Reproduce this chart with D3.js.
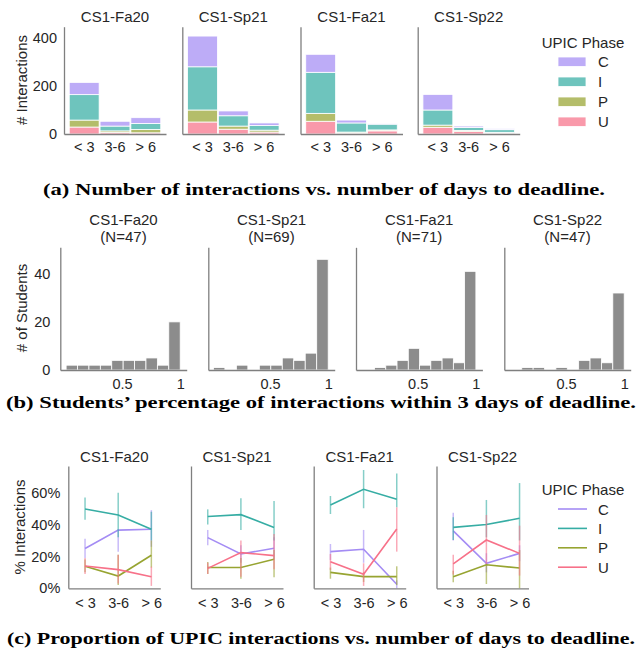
<!DOCTYPE html>
<html>
<head>
<meta charset="utf-8">
<script src="https://cdn.jsdelivr.net/npm/d3@7"></script>
<style>
body { margin: 0; background: #fff; }
text { font-family: "Liberation Sans", Arial, sans-serif; fill: #262626; }
.caption { font-family: "Liberation Serif", "Times New Roman", serif; font-weight: bold; fill: #000; font-size: 17.5px; }
.axis .domain { stroke: #7f7f7f; stroke-width: 1.3; }
.axis text { font-size: 14.5px; fill: #262626; }
</style>
</head>
<body>
<script>
const semesters = ['CS1-Fa20', 'CS1-Sp21', 'CS1-Fa21', 'CS1-Sp22']
const phases = ['C', 'I', 'P', 'U']
const dayBins = ['< 3', '3-6', '> 6']

// (a) number of interactions, [semester][day bin]
const countC = [[51, 20, 24], [128, 20, 11], [75, 12, 1], [65, 6, 4]]
const countI = [[106, 20, 25], [180, 43, 19], [171, 38, 24], [63, 12, 11]]
const countP = [[29, 6, 14], [50, 13, 8], [33, 4, 4], [9, 5, 3]]
const countU = [[29, 7, 5], [50, 20, 8], [53, 4, 13], [28, 10, 4]]

// (b) students per share-of-interactions bin (bins run from histLow up to 1)
const studentN = [47, 69, 71, 47]
const histLow = [0.02, 0.014, 0.129, 0.12]
const histCounts = [
  [2, 2, 2, 2, 4, 4, 4, 5, 2, 20],
  [1, 0, 2, 0, 2, 2, 5, 4, 7, 46],
  [1, 2, 4, 9, 2, 4, 5, 3, 41],
  [1, 1, 0, 1, 0, 4, 5, 3, 32]
]

// (c) % of interactions per phase, [semester][day bin], with error bars
const pctC = [[25, 36.5, 37], [31.8, 21.5, 25.1], [23, 24.5, 2.5], [36, 15.7, 21.9]]
const pctI = [[49.7, 46, 37], [45, 46.2, 38.2], [52.2, 62.1, 55.8], [38.2, 40, 43.9]]
const pctP = [[13.8, 7.7, 20.7], [13, 13, 18.2], [10, 7.3, 7.3], [7.3, 14.8, 12.7]]
const pctU = [[14, 11.7, 7.3], [12.5, 22.4, 20.5], [16.7, 8.8, 37.2], [15.3, 30.3, 21.9]]
const errC = [[[19, 31], [23, 37], [26, 49]], [[27, 36.6], [16, 27], [18, 32]], [[17.8, 27.8], [16, 36.6], [0, 5]], [[30, 47.4], [10, 22], [17, 27]]]
const errI = [[[43, 57], [32, 60], [30, 48]], [[40, 49.5], [36.6, 56.4], [30, 54.8]], [[46.6, 57.9], [50.2, 74.2], [50.8, 72]], [[30.3, 44.5], [32, 55.4], [30, 66]]]
const errP = [[[10, 18], [2, 21], [13, 30]], [[9, 16.5], [6, 19], [7, 24]], [[6, 13], [4, 10], [2, 13.8]], [[3.8, 11], [2.7, 15.3], [0, 24]]]
const errU = [[[9, 19], [3, 21], [1.5, 13.6]], [[9, 16], [7.3, 30], [12, 34]], [[11.5, 21.5], [1.5, 15.7], [23, 50.8]], [[8.6, 21.1], [15.3, 46], [8, 39.3]]]

const colors = {C: '#a48cf4', I: '#36ada4', P: '#97a431', U: '#f77189'}
const countBy = {C: countC, I: countI, P: countP, U: countU}
const pctBy = {C: pctC, I: pctI, P: pctP, U: pctU}
const errBy = {C: errC, I: errI, P: errP, U: errU}

let svg = d3.select('body').append('svg')
  .attr('width', 639)
  .attr('height', 653)

function yLabel(text, x, y) {
  svg.append('text')
    .attr('transform', `translate(${x},${y}) rotate(-90)`)
    .attr('text-anchor', 'middle')
    .style('font-size', '15px')
    .text(text)
}

function title(lines, cx, y) {
  lines.forEach((l, i) => {
    svg.append('text')
      .attr('x', cx).attr('y', y + i * 17.5)
      .attr('text-anchor', 'middle')
      .style('font-size', '15px')
      .text(l)
  })
}

// ---------- (a) stacked bars ----------
const aLeft = [64, 182.3, 300.5, 417.7]
const aW = 102
let yA = d3.scaleLinear().domain([0, 447]).range([134, 26.7])
const stackOrder = ['U', 'P', 'I', 'C']

semesters.forEach((sem, s) => {
  let g = svg.append('g')
  let x = d3.scaleBand().domain(dayBins).range([aLeft[s], aLeft[s] + aW])
    .paddingInner(0.03).paddingOuter(0.17)

  let rows = dayBins.map((d, j) => {
    let r = {bin: d}
    phases.forEach(p => r[p] = countBy[p][s][j])
    return r
  })
  let stacked = d3.stack().keys(stackOrder)(rows)

  g.selectAll('g.layer')
    .data(stacked)
    .enter()
    .append('g')
    .attr('fill', d => colors[d.key])
    .attr('fill-opacity', 0.72)
    .selectAll('rect')
    .data(d => d)
    .enter()
    .append('rect')
    .attr('x', d => x(d.data.bin))
    .attr('width', x.bandwidth())
    .attr('y', d => yA(d[1]))
    .attr('height', d => yA(d[0]) - yA(d[1]))
    .attr('stroke', '#fff')
    .attr('stroke-width', 0.8)

  g.append('g').attr('class', 'axis')
    .attr('transform', 'translate(0,134)')
    .call(d3.axisBottom(x).tickSize(0).tickPadding(8).tickSizeOuter(0))

  let ya = g.append('g').attr('class', 'axis')
    .attr('transform', `translate(${aLeft[s]},0)`)
    .call(d3.axisLeft(yA).tickValues([0, 200, 400]).tickSize(0).tickPadding(7).tickSizeOuter(0))
  if (s > 0) ya.selectAll('text').remove()

  title([sem], aLeft[s] + aW / 2, 21.5)
})
yLabel('# Interactions', 27, 80)

// legend (a)
svg.append('text').attr('x', 583).attr('y', 47.5).attr('text-anchor', 'middle')
  .style('font-size', '15px').text('UPIC Phase')
phases.forEach((p, i) => {
  svg.append('rect')
    .attr('x', 558).attr('y', 57 + i * 20).attr('width', 28).attr('height', 9.5)
    .attr('fill', colors[p]).attr('fill-opacity', 0.72)
    .attr('stroke', '#fff').attr('stroke-width', 0.8)
  svg.append('text').attr('x', 598).attr('y', 67 + i * 20)
    .style('font-size', '15px').text(p)
})

svg.append('text').attr('class', 'caption')
  .attr('x', 324).attr('y', 194.5).attr('text-anchor', 'middle')
  .attr('textLength', 562).attr('lengthAdjust', 'spacingAndGlyphs')
  .text('(a) Number of interactions vs. number of days to deadline.')

// ---------- (b) histograms ----------
const bLeft = [60.3, 208.3, 356, 504.3]
const bW = 126.4
let yB = d3.scaleLinear().domain([0, 51]).range([370, 247.3])

semesters.forEach((sem, s) => {
  let g = svg.append('g')
  let x = d3.scaleLinear().domain([-0.03, 1.056]).range([bLeft[s], bLeft[s] + bW])
  let n = histCounts[s].length
  let step = (1 - histLow[s]) / n
  let bins = histCounts[s].map((c, i) => ({x0: histLow[s] + i * step, x1: histLow[s] + (i + 1) * step, c: c}))

  g.selectAll('rect')
    .data(bins.filter(b => b.c > 0))
    .enter()
    .append('rect')
    .attr('x', d => x(d.x0))
    .attr('width', d => x(d.x1) - x(d.x0))
    .attr('y', d => yB(d.c))
    .attr('height', d => yB(0) - yB(d.c))
    .attr('fill', '#8c8c8c')
    .attr('stroke', '#fff')
    .attr('stroke-width', 0.8)

  g.append('g').attr('class', 'axis')
    .attr('transform', 'translate(0,370)')
    .call(d3.axisBottom(x).tickValues([0.5, 1]).tickFormat(d3.format('')).tickSize(0).tickPadding(9).tickSizeOuter(0))

  let ya = g.append('g').attr('class', 'axis')
    .attr('transform', `translate(${bLeft[s]},0)`)
    .call(d3.axisLeft(yB).tickValues([0, 20, 40]).tickSize(0).tickPadding(10).tickSizeOuter(0))
  if (s > 0) ya.selectAll('text').remove()

  title([sem, `(N=${studentN[s]})`], bLeft[s] + bW / 2, 224.5)
})
yLabel('# of Students', 27, 308)

svg.append('text').attr('class', 'caption')
  .attr('x', 321).attr('y', 407.5).attr('text-anchor', 'middle')
  .attr('textLength', 630).attr('lengthAdjust', 'spacingAndGlyphs')
  .text('(b) Students\u2019 percentage of interactions within 3 days of deadline.')

// ---------- (c) proportions with error bars ----------
const cLeft = [68.3, 191, 313.7, 436.5]
const cW = 92
let yC = d3.scaleLinear().domain([0, 76.7]).range([588.3, 466])

semesters.forEach((sem, s) => {
  let g = svg.append('g')
  let x = d3.scaleLinear().domain([-0.505, 2.27]).range([cLeft[s], cLeft[s] + cW])

  phases.forEach(p => {
    let pts = dayBins.map((d, j) => ({j: j, v: pctBy[p][s][j], e: errBy[p][s][j]}))
    g.append('g').selectAll('line')
      .data(pts)
      .enter()
      .append('line')
      .attr('x1', d => x(d.j)).attr('x2', d => x(d.j))
      .attr('y1', d => yC(d.e[0])).attr('y2', d => yC(d.e[1]))
      .attr('stroke', colors[p])
      .attr('stroke-opacity', 0.6)
      .attr('stroke-width', 1.5)
    g.append('path')
      .datum(pts)
      .attr('d', d3.line().x(d => x(d.j)).y(d => yC(d.v)))
      .attr('fill', 'none')
      .attr('stroke', colors[p])
      .attr('stroke-width', 1.6)
  })

  g.append('g').attr('class', 'axis')
    .attr('transform', 'translate(0,588.3)')
    .call(d3.axisBottom(x).tickValues([0, 1, 2]).tickFormat(i => dayBins[i]).tickSize(0).tickPadding(9).tickSizeOuter(0))

  let ya = g.append('g').attr('class', 'axis')
    .attr('transform', `translate(${cLeft[s]},0)`)
    .call(d3.axisLeft(yC).tickValues([0, 20, 40, 60]).tickFormat(d => d + '%').tickSize(0).tickPadding(8).tickSizeOuter(0))
  if (s > 0) ya.selectAll('text').remove()

  title([sem], cLeft[s] + cW / 2, 462)
})
yLabel('% Interactions', 25, 527)

// legend (c)
svg.append('text').attr('x', 583).attr('y', 494.5).attr('text-anchor', 'middle')
  .style('font-size', '15px').text('UPIC Phase')
phases.forEach((p, i) => {
  svg.append('line')
    .attr('x1', 558).attr('x2', 587)
    .attr('y1', 509 + i * 19.4).attr('y2', 509 + i * 19.4)
    .attr('stroke', colors[p]).attr('stroke-width', 1.6)
  svg.append('text').attr('x', 598).attr('y', 514.5 + i * 19.4)
    .style('font-size', '15px').text(p)
})

svg.append('text').attr('class', 'caption')
  .attr('x', 321).attr('y', 643.5).attr('text-anchor', 'middle')
  .attr('textLength', 628).attr('lengthAdjust', 'spacingAndGlyphs')
  .text('(c) Proportion of UPIC interactions vs. number of days to deadline.')
</script>
</body>
</html>
